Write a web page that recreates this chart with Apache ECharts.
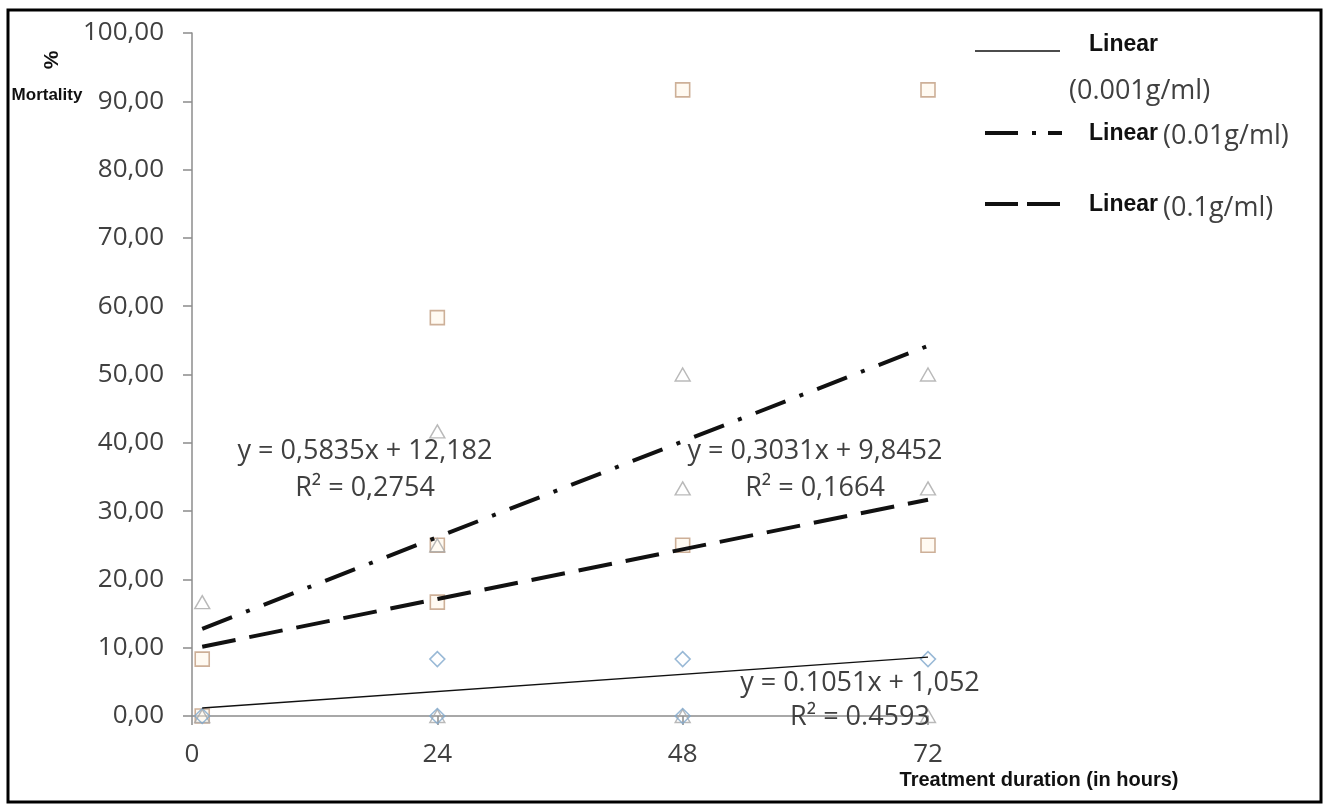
<!DOCTYPE html>
<html>
<head>
<meta charset="utf-8">
<script src="https://cdn.jsdelivr.net/npm/echarts@6/dist/echarts.min.js"></script>
<style>
html,body{margin:0;padding:0;background:#fff;}
#chart{width:1326px;height:810px;}
</style>
</head>
<body>
<div id="chart"></div>
<script>
// ---- data ----
const xTicks = [0, 24, 48, 72];
const yTicks = [0, 10, 20, 30, 40, 50, 60, 70, 80, 90, 100];

// 0.001 g/ml (blue diamonds)
const diamondPts = [[1, 0], [24, 8.33], [24, 0], [48, 8.33], [48, 0], [72, 8.33]];
// 0.01 g/ml (grey triangles)
const trianglePts = [[1, 16.67], [1, 0], [24, 41.67], [24, 25], [24, 0], [48, 50], [48, 33.33], [48, 0], [72, 50], [72, 33.33], [72, 0]];
// 0.1 g/ml (orange squares)
const squarePts = [[1, 8.33], [1, 0], [24, 58.33], [24, 25], [24, 16.67], [48, 91.67], [48, 25], [72, 91.67], [72, 25]];

// trend line end points
const trendSolid = [[1, 1.16], [72, 8.62]];
const trendDashDot = [[1, 12.77], [72, 54.2]];
const trendDashed = [[1, 10.15], [72, 31.67]];

const eqDashDot = ['y = 0,5835x + 12,182', 'R² = 0,2754'];
const eqDashed = ['y = 0,3031x + 9,8452', 'R² = 0,1664'];
const eqSolid = ['y = 0.1051x + 1,052', 'R² = 0.4593'];

const legendNames = ['Linear', '(0.001g/ml)', '(0.01g/ml)', '(0.1g/ml)'];
const xName = 'Treatment duration (in hours)';
const yName = ['%', 'Mortality'];

// ---- chart ----
const chart = echarts.init(document.getElementById('chart'), null, {renderer: 'canvas'});
const tickFont = {fontFamily: '"Open Sans", sans-serif', fontSize: 26, color: '#404040'};
const eqStyle = {fontFamily: '"Open Sans", sans-serif', fontSize: 27, fill: '#404040', align: 'center', verticalAlign: 'middle'};
const boldStyle = {fontFamily: '"Liberation Sans", Arial, sans-serif', fontWeight: 'bold', fill: '#111'};
const parenStyle = {fontFamily: '"Open Sans", sans-serif', fontSize: 27, fill: '#404040', verticalAlign: 'middle'};

function eqGraphic(lines, cx, y1, y2) {
  return [
    {type: 'text', x: cx, y: y1, z: 50, style: Object.assign({text: lines[0]}, eqStyle)},
    {type: 'text', x: cx, y: y2, z: 50, style: Object.assign({text: lines[1]}, eqStyle)}
  ];
}

const option = {
  backgroundColor: '#fff',
  animation: false,
  grid: {left: 192, right: 398, top: 33, bottom: 94},
  xAxis: {
    type: 'value', min: 0, max: 72, interval: 24,
    axisLine: {show: true, lineStyle: {color: '#8c8c8c', width: 1.5}},
    axisTick: {show: true, length: 9, lineStyle: {color: '#8c8c8c', width: 1.5}},
    splitLine: {show: false},
    axisLabel: Object.assign({margin: 26}, tickFont)
  },
  yAxis: {
    type: 'value', min: 0, max: 100, interval: 10,
    axisLine: {show: true, onZero: false, lineStyle: {color: '#8c8c8c', width: 1.5}},
    axisTick: {show: true, length: 9, lineStyle: {color: '#8c8c8c', width: 1.5}},
    splitLine: {show: false},
    axisLabel: Object.assign({margin: 28, formatter: v => v.toFixed(2).replace('.', ',')}, tickFont)
  },
  series: [
    {type: 'scatter', name: 'sq', data: squarePts, symbol: 'rect', symbolSize: 14,
     itemStyle: {color: 'rgba(255,244,228,0.6)', borderColor: '#C09C80', borderWidth: 1.6}, z: 3},
    {type: 'scatter', name: 'tri', data: trianglePts, symbol: 'triangle', symbolSize: [15, 13],
     itemStyle: {color: 'rgba(255,255,255,0)', borderColor: '#a8a8a8', borderWidth: 1.4}, z: 4},
    {type: 'scatter', name: 'dia', data: diamondPts, symbol: 'diamond', symbolSize: [15, 15],
     itemStyle: {color: 'rgba(255,255,255,0)', borderColor: '#7fa8cc', borderWidth: 1.5}, z: 5},
    {type: 'line', name: 'Linear (0.001g/ml)', data: trendSolid, symbol: 'none', z: 6,
     lineStyle: {color: '#111', width: 1.5}},
    {type: 'line', name: 'Linear (0.01g/ml)', data: trendDashDot, symbol: 'none', z: 6,
     lineStyle: {color: '#111', width: 4, type: [32, 15, 4, 15]}},
    {type: 'line', name: 'Linear (0.1g/ml)', data: trendDashed, symbol: 'none', z: 6,
     lineStyle: {color: '#111', width: 4, type: [34, 14]}}
  ],
  graphic: [
    // outer border
    {type: 'rect', shape: {x: 8, y: 10, width: 1313, height: 792}, z: 100,
     style: {fill: 'none', stroke: '#000', lineWidth: 3}},
    // y title
    {type: 'text', x: 52, y: 60, rotation: Math.PI / 2, z: 50,
     style: Object.assign({text: yName[0], fontSize: 21, align: 'center', verticalAlign: 'middle'}, boldStyle)},
    {type: 'text', x: 47, y: 95, z: 50,
     style: Object.assign({text: yName[1], fontSize: 17, align: 'center', verticalAlign: 'middle'}, boldStyle)},
    // x title
    {type: 'text', x: 1039, y: 780, z: 50,
     style: Object.assign({text: xName, fontSize: 20, align: 'center', verticalAlign: 'middle'}, boldStyle)},
    // legend samples
    {type: 'line', shape: {x1: 975, y1: 51, x2: 1060, y2: 51}, style: {stroke: '#111', lineWidth: 1.5}},
    {type: 'line', shape: {x1: 985, y1: 133, x2: 1062, y2: 133}, style: {stroke: '#111', lineWidth: 4, lineDash: [33, 14, 4, 12]}},
    {type: 'line', shape: {x1: 985, y1: 204, x2: 1062, y2: 204}, style: {stroke: '#111', lineWidth: 4, lineDash: [33, 9]}},
    // legend texts
    {type: 'text', x: 1089, y: 45, style: Object.assign({text: legendNames[0], fontSize: 23, verticalAlign: 'middle'}, boldStyle)},
    {type: 'text', x: 1069, y: 91, style: Object.assign({text: legendNames[1]}, parenStyle)},
    {type: 'text', x: 1089, y: 134, style: Object.assign({text: legendNames[0], fontSize: 23, verticalAlign: 'middle'}, boldStyle)},
    {type: 'text', x: 1163, y: 136, style: Object.assign({text: legendNames[2]}, parenStyle)},
    {type: 'text', x: 1089, y: 205, style: Object.assign({text: legendNames[0], fontSize: 23, verticalAlign: 'middle'}, boldStyle)},
    {type: 'text', x: 1163, y: 208, style: Object.assign({text: legendNames[3]}, parenStyle)}
  ].concat(eqGraphic(eqDashDot, 365, 451, 488))
   .concat(eqGraphic(eqDashed, 815, 451, 488))
   .concat(eqGraphic(eqSolid, 860, 683, 717))
};
chart.setOption(option);
</script>
</body>
</html>
